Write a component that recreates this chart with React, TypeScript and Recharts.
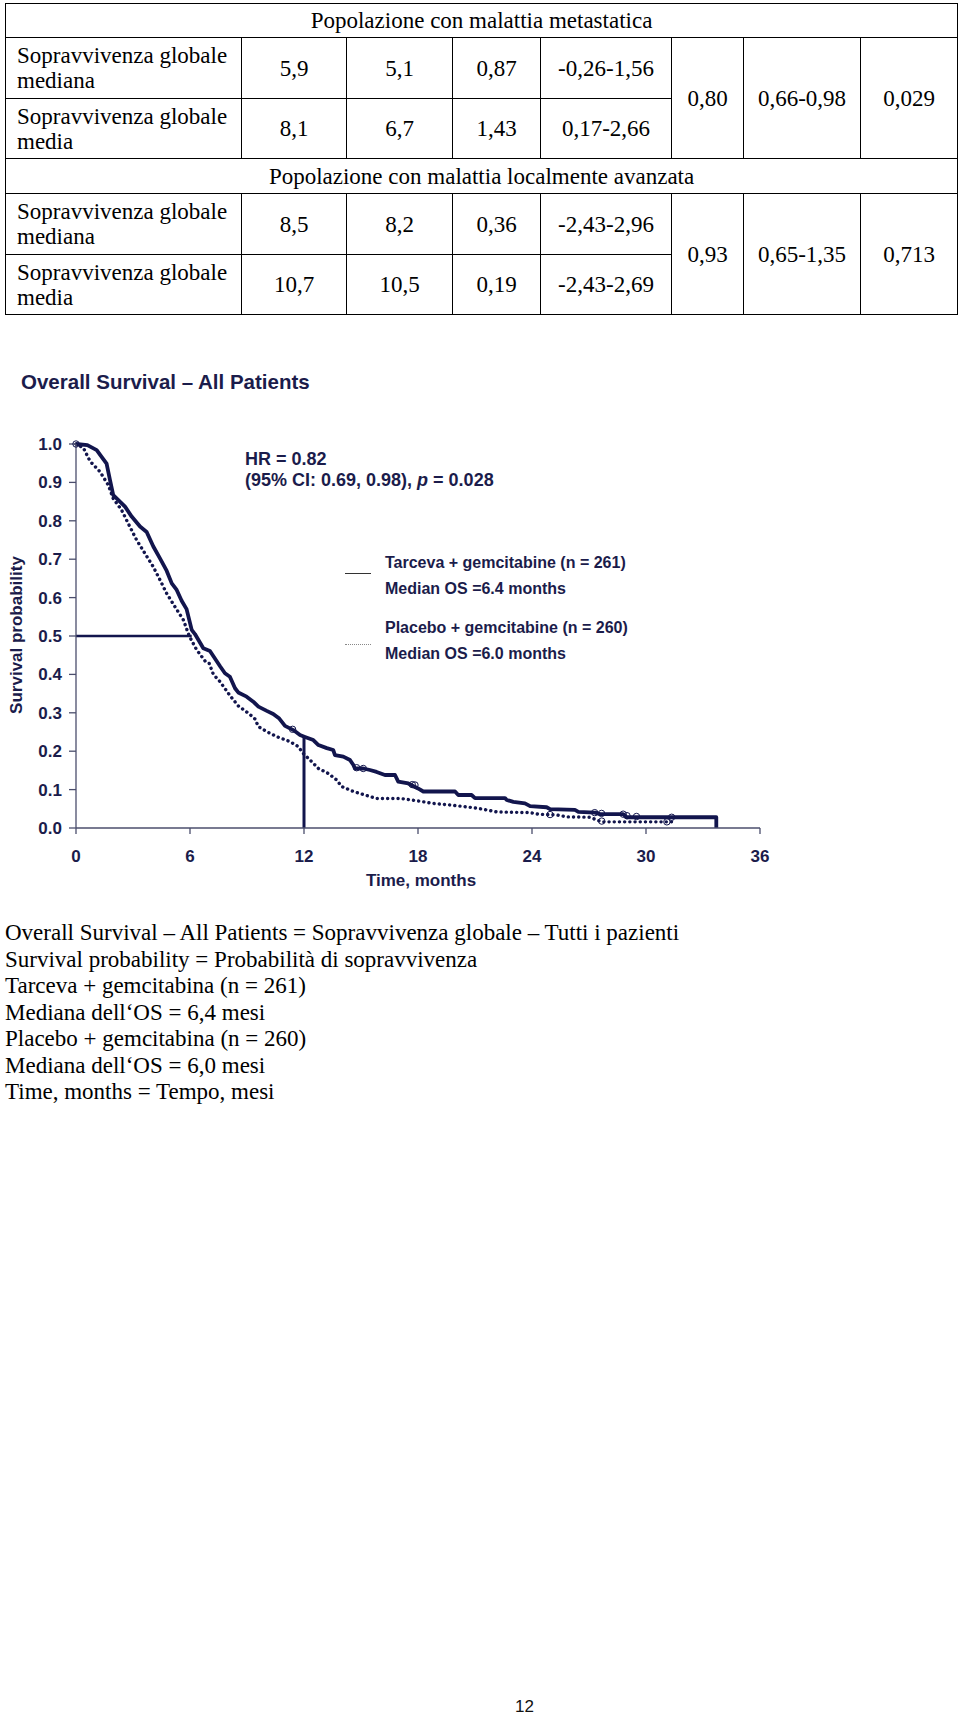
import React from "react";
import { ComposedChart, Line, Scatter, XAxis, YAxis, ReferenceLine } from "recharts";

const NAVY = "#12154d";
const INK = "#1b1c4b";
const SANS = "'Liberation Sans', Arial, sans-serif";
const SERIF = "'Liberation Serif', 'Times New Roman', serif";

// Kaplan-Meier curves (months, survival probability)
const tarcevaMonths = [0, 0.6, 1.09, 1.3, 1.61, 1.79, 1.96, 2.23, 2.58, 2.93, 3.37, 3.72, 4.07, 4.42, 4.77, 5.04, 5.3, 5.56, 5.82, 6.09, 6.26, 6.7, 7.05, 7.6, 7.84, 8.1, 8.37, 8.54, 8.98, 9.33, 9.6, 10.04, 10.38, 10.7, 11.0, 11.44, 11.79, 12.05, 12.49, 12.76, 13.2, 13.54, 13.63, 14.07, 14.42, 14.6, 14.68, 15.12, 15.47, 15.82, 16.26, 16.79, 16.96, 17.49, 18.0, 18.28, 19.95, 20.12, 20.82, 21.0, 22.58, 22.67, 23.02, 23.63, 23.9, 24.77, 24.95, 26.26, 26.44, 27.32, 27.58, 28.8, 28.98, 33.7, 33.7];
const tarcevaSurv = [1.0, 0.997, 0.984, 0.97, 0.949, 0.906, 0.867, 0.854, 0.837, 0.811, 0.785, 0.771, 0.733, 0.702, 0.67, 0.637, 0.62, 0.592, 0.57, 0.516, 0.505, 0.468, 0.461, 0.42, 0.403, 0.394, 0.364, 0.353, 0.342, 0.329, 0.316, 0.305, 0.297, 0.285, 0.266, 0.255, 0.242, 0.237, 0.229, 0.216, 0.208, 0.203, 0.19, 0.186, 0.177, 0.164, 0.155, 0.155, 0.151, 0.146, 0.138, 0.138, 0.121, 0.116, 0.103, 0.095, 0.095, 0.086, 0.086, 0.078, 0.078, 0.073, 0.068, 0.064, 0.057, 0.054, 0.049, 0.047, 0.042, 0.04, 0.036, 0.036, 0.028, 0.028, 0];

const placeboMonths = [0, 0.12, 0.39, 0.74, 1.26, 1.7, 1.96, 2.4, 2.75, 3.19, 3.63, 4.07, 4.42, 4.77, 5.21, 5.65, 5.96, 6.35, 6.79, 7.0, 7.23, 7.58, 8.1, 8.54, 9.1, 9.42, 9.6, 10.04, 10.56, 11.26, 11.7, 11.96, 12.32, 12.76, 13.28, 13.72, 13.98, 14.6, 15.21, 15.82, 17.05, 17.93, 18.8, 19.68, 20.56, 21.18, 22.14, 23.9, 24.33, 25.3, 25.83, 27.05, 27.4, 27.67, 31.35];
const placeboSurv = [1.0, 0.997, 0.99, 0.955, 0.928, 0.893, 0.858, 0.828, 0.793, 0.75, 0.715, 0.68, 0.646, 0.611, 0.576, 0.542, 0.5, 0.464, 0.435, 0.43, 0.4, 0.381, 0.345, 0.318, 0.298, 0.284, 0.264, 0.251, 0.238, 0.225, 0.212, 0.194, 0.177, 0.155, 0.142, 0.125, 0.108, 0.095, 0.086, 0.077, 0.077, 0.071, 0.064, 0.06, 0.055, 0.051, 0.042, 0.04, 0.036, 0.034, 0.029, 0.028, 0.021, 0.016, 0.016];

// censored observations (open circles)
const tarcevaCensorMonths = [0, 11.4, 14.77, 15.12, 17.7, 17.84, 27.3, 27.66, 28.8, 29.0, 29.5, 31.35];
const tarcevaCensorSurv = [1.0, 0.257, 0.157, 0.155, 0.113, 0.112, 0.04, 0.038, 0.036, 0.032, 0.03, 0.028];
const placeboCensorMonths = [24.95, 27.67, 31.1];
const placeboCensorSurv = [0.035, 0.018, 0.016];

// median / 1-year markers
const medianMarkerMonths = [0, 6.09];
const medianMarkerSurv = 0.5;
const yearMarkerMonth = 12;
const yearMarkerSurv = [0, 0.237];

const xTicks = [0, 6, 12, 18, 24, 30, 36];
const yTicks = [0, 0.1, 0.2, 0.3, 0.4, 0.5, 0.6, 0.7, 0.8, 0.9, 1.0];

const legendLines = [
  "Tarceva + gemcitabine (n = 261)",
  "Median OS =6.4 months",
  "Placebo + gemcitabine (n = 260)",
  "Median OS =6.0 months",
];

const notes = [
  "Overall Survival – All Patients = Sopravvivenza globale – Tutti i pazienti",
  "Survival probability = Probabilità di sopravvivenza",
  "Tarceva + gemcitabina (n = 261)",
  "Mediana dell‘OS = 6,4 mesi",
  "Placebo + gemcitabina (n = 260)",
  "Mediana dell‘OS = 6,0 mesi",
  "Time, months = Tempo, mesi",
];

const tableCols = [236, 105, 106, 88, 131, 72, 117, 97];
const groups = [
  {
    title: "Popolazione con malattia metastatica",
    rows: [
      { label: "mediana", vals: ["5,9", "5,1", "0,87", "-0,26-1,56"] },
      { label: "media", vals: ["8,1", "6,7", "1,43", "0,17-2,66"] },
    ],
    merged: ["0,80", "0,66-0,98", "0,029"],
  },
  {
    title: "Popolazione con malattia localmente avanzata",
    rows: [
      { label: "mediana", vals: ["8,5", "8,2", "0,36", "-2,43-2,96"] },
      { label: "media", vals: ["10,7", "10,5", "0,19", "-2,43-2,69"] },
    ],
    merged: ["0,93", "0,65-1,35", "0,713"],
  },
];

const zip = (xs: number[], ys: number[]) => xs.map((t, i) => ({ t, s: ys[i] }));

const tarcevaData = zip(tarcevaMonths, tarcevaSurv);
const placeboData = zip(placeboMonths, placeboSurv);
const censorData = [
  ...zip(tarcevaCensorMonths, tarcevaCensorSurv),
  ...zip(placeboCensorMonths, placeboCensorSurv),
];

const Txt = ({ x, y, size, bold = true, color = INK, children, font = SANS }: any) => (
  <div
    style={{
      position: "absolute",
      left: x,
      top: y - size / 2,
      fontSize: size,
      lineHeight: `${size}px`,
      fontWeight: bold ? "bold" : "normal",
      fontFamily: font,
      color,
      whiteSpace: "nowrap",
    }}
  >
    {children}
  </div>
);

const Circle = (p: any) => (
  <circle cx={p.cx} cy={p.cy} r={3.2} fill="none" stroke={NAVY} strokeWidth={1} />
);

const cell: React.CSSProperties = {
  border: "1.5px solid #000",
  padding: 0,
  textAlign: "center",
  verticalAlign: "middle",
  whiteSpace: "nowrap",
};

function SurvivalTable() {
  const rowHeights = [61, 60];
  return (
    <table
      style={{
        position: "absolute",
        left: 5,
        top: 3,
        width: tableCols.reduce((a, b) => a + b, 0),
        borderCollapse: "collapse",
        tableLayout: "fixed",
        fontFamily: SERIF,
        fontSize: 23,
        lineHeight: "25px",
        color: "#000",
      }}
    >
      <colgroup>
        {tableCols.map((w, i) => (
          <col key={i} style={{ width: w }} />
        ))}
      </colgroup>
      <tbody>
        {groups.map((g, gi) => (
          <React.Fragment key={gi}>
            <tr style={{ height: gi === 0 ? 34 : 35 }}>
              <td colSpan={8} style={cell}>{g.title}</td>
            </tr>
            {g.rows.map((r, ri) => (
              <tr key={ri} style={{ height: rowHeights[ri] }}>
                <td style={{ ...cell, textAlign: "left", paddingLeft: 11 }}>
                  Sopravvivenza globale
                  <br />
                  {r.label}
                </td>
                {r.vals.map((v, vi) => (
                  <td key={vi} style={cell}>{v}</td>
                ))}
                {ri === 0 &&
                  g.merged.map((v, vi) => (
                    <td key={"m" + vi} rowSpan={2} style={cell}>{v}</td>
                  ))}
              </tr>
            ))}
          </React.Fragment>
        ))}
      </tbody>
    </table>
  );
}

export default function App() {
  const tick = { fill: INK, fontSize: 17, fontWeight: "bold", fontFamily: SANS };
  const axisStroke = { stroke: "#4b4e6c", strokeWidth: 1.3 };
  return (
    <div style={{ position: "absolute", left: 0, top: 0, width: 960, height: 1716, background: "#fff" }}>
      <SurvivalTable />

      <Txt x={21} y={382} size={20.5}>Overall Survival – All Patients</Txt>

      <div style={{ position: "absolute", left: 0, top: 400 }}>
        <ComposedChart width={800} height={500} margin={{ top: 44, right: 40, bottom: 42, left: 20 }}>
          <XAxis
            type="number"
            dataKey="t"
            domain={[0, 36]}
            ticks={xTicks}
            height={30}
            axisLine={axisStroke}
            tickLine={axisStroke}
            tickSize={6}
            tickMargin={16}
            tick={tick}
            allowDuplicatedCategory={false}
          />
          <YAxis
            type="number"
            dataKey="s"
            domain={[0, 1]}
            ticks={yTicks}
            width={56}
            axisLine={axisStroke}
            tickLine={axisStroke}
            tickSize={7}
            tickMargin={7}
            tick={tick}
            tickFormatter={(v: number) => v.toFixed(1)}
          />
          <ReferenceLine
            segment={[
              { x: medianMarkerMonths[0], y: medianMarkerSurv },
              { x: medianMarkerMonths[1], y: medianMarkerSurv },
            ]}
            stroke={NAVY}
            strokeWidth={2.6}
          />
          <ReferenceLine
            segment={[
              { x: yearMarkerMonth, y: yearMarkerSurv[0] },
              { x: yearMarkerMonth, y: yearMarkerSurv[1] },
            ]}
            stroke={NAVY}
            strokeWidth={3}
          />
          <Line
            data={placeboData}
            dataKey="s"
            type="linear"
            stroke={NAVY}
            strokeWidth={3.4}
            strokeDasharray="0.1 5.1"
            strokeLinecap="round"
            dot={false}
            activeDot={false}
            isAnimationActive={false}
          />
          <Line
            data={tarcevaData}
            dataKey="s"
            type="linear"
            stroke={NAVY}
            strokeWidth={3.8}
            strokeLinejoin="round"
            dot={false}
            activeDot={false}
            isAnimationActive={false}
          />
          <Scatter data={censorData} dataKey="s" shape={Circle} isAnimationActive={false} />
        </ComposedChart>
      </div>

      <div
        style={{
          position: "absolute",
          left: 16,
          top: 635,
          transform: "translate(-50%, -50%) rotate(-90deg)",
          fontFamily: SANS,
          fontWeight: "bold",
          fontSize: 17,
          lineHeight: "17px",
          color: INK,
          whiteSpace: "nowrap",
        }}
      >
        Survival probability
      </div>
      <div
        style={{
          position: "absolute",
          left: 421,
          top: 880,
          transform: "translate(-50%, -50%)",
          fontFamily: SANS,
          fontWeight: "bold",
          fontSize: 17,
          lineHeight: "17px",
          color: INK,
          whiteSpace: "nowrap",
        }}
      >
        Time, months
      </div>

      <Txt x={245} y={459} size={18}>HR = 0.82</Txt>
      <Txt x={245} y={480} size={18}>
        (95% CI: 0.69, 0.98), <i>p</i> = 0.028
      </Txt>

      <div style={{ position: "absolute", left: 345, top: 573, width: 26, borderTop: "1px solid #333" }} />
      <div style={{ position: "absolute", left: 345, top: 644, width: 26, borderTop: "1px dotted #888" }} />
      {legendLines.map((l, i) => (
        <Txt key={i} x={385} y={[563, 589, 628, 654][i]} size={16}>
          {l}
        </Txt>
      ))}

      <div
        style={{
          position: "absolute",
          left: 5,
          top: 920,
          fontFamily: SERIF,
          fontSize: 23,
          lineHeight: "26.5px",
          color: "#000",
          whiteSpace: "nowrap",
        }}
      >
        {notes.map((n, i) => (
          <div key={i}>{n}</div>
        ))}
      </div>

      <Txt x={515} y={1706} size={17} bold={false} color="#111">12</Txt>
    </div>
  );
}
